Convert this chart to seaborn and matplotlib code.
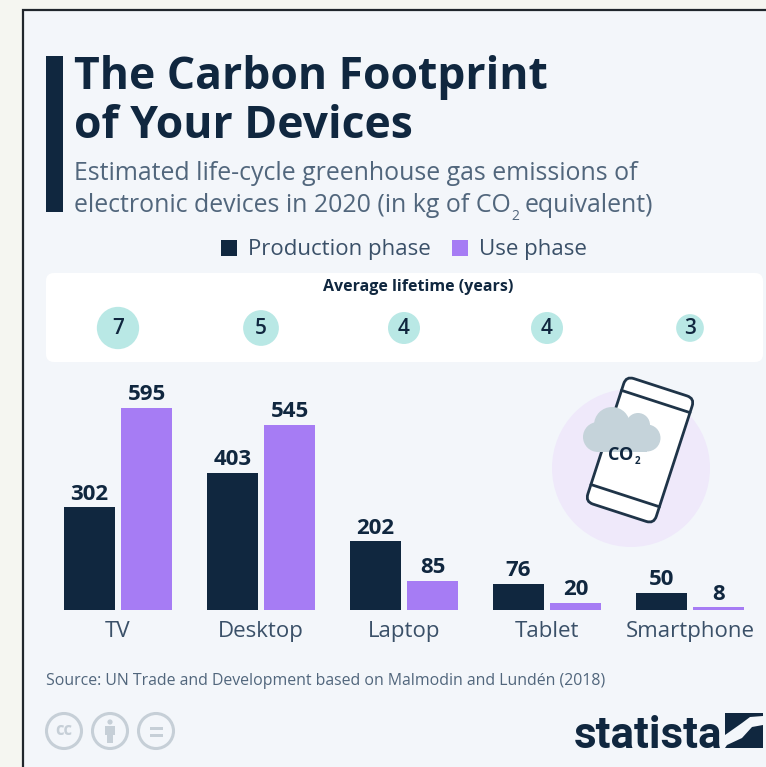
import matplotlib
matplotlib.use("Agg")
import matplotlib.pyplot as plt
import seaborn as sns
import pandas as pd
from matplotlib.patches import FancyBboxPatch, Circle, Rectangle, Polygon
from matplotlib.transforms import Affine2D

devices = ["TV", "Desktop", "Laptop", "Tablet", "Smartphone"]
production = [302, 403, 202, 76, 50]
use = [595, 545, 85, 20, 8]
lifetime = [7, 5, 4, 4, 3]
phase_names = ["Production phase", "Use phase"]

NAVY = "#10273f"
PURPLE = "#a67cf4"
GREY = "#51667c"
CARD = "#f3f6fa"
W, H = 766, 767

sns.set_theme(style="white")
plt.rcParams["font.family"] = ["Open Sans", "DejaVu Sans"]

fig = plt.figure(figsize=(W / 100, H / 100), dpi=100, facecolor="#f5f6f1")

# page layer in pixel coordinates
bg = fig.add_axes([0, 0, 1, 1], zorder=0)
bg.set_xlim(0, W)
bg.set_ylim(H, 0)
bg.axis("off")
bg.add_patch(Rectangle((22.5, 10), 780, 790, fc=CARD, ec="#20262c", lw=1.6))
bg.add_patch(Rectangle((46, 56), 17, 156, fc=NAVY, ec="none"))
bg.add_patch(FancyBboxPatch((52, 279), 705, 77, boxstyle="round,pad=6,rounding_size=8", fc="white", ec="none"))

bg.text(74, 77, "The Carbon Footprint", fontsize=32, fontweight="bold", color=NAVY, va="center")
bg.text(74, 127, "of Your Devices", fontsize=32, fontweight="bold", color=NAVY, va="center")
bg.text(74, 174, "Estimated life-cycle greenhouse gas emissions of", fontsize=17.9, color=GREY, va="center")
bg.text(74, 205, "electronic devices in 2020 (in kg of CO", fontsize=17.9, color=GREY, va="center")
bg.text(511, 216, "2", fontsize=10, color=GREY, va="center")
bg.text(525, 205, "equivalent)", fontsize=17.9, color=GREY, va="center")
bg.text(418, 287, "Average lifetime (years)", fontsize=11.5, fontweight="bold", color=NAVY, ha="center", va="center")
bg.text(46, 681, "Source: UN Trade and Development based on Malmodin and Lundén (2018)", fontsize=11.4, color=GREY, va="center")

# icon
bg.add_patch(Circle((631, 468), 79, fc="#efe9fa", ec="none"))
rot = Affine2D().rotate_deg_around(640, 450, 18) + bg.transData
bg.add_patch(FancyBboxPatch((604, 384), 72, 132, boxstyle="round,pad=0,rounding_size=8", fc="white", ec="#1f3448", lw=2, transform=rot))
bg.plot([604, 676], [399, 399], color="#1f3448", lw=2, transform=rot)
bg.plot([604, 676], [498, 498], color="#1f3448", lw=2, transform=rot)
CLOUD = "#c5d3da"
for cx, cy, r in [(612, 425, 18), (638, 425, 12), (598, 437, 15), (647, 438, 13.5)]:
    bg.add_patch(Circle((cx, cy), r, fc=CLOUD, ec="none"))
bg.add_patch(Rectangle((598, 425), 49, 27, fc=CLOUD, ec="none"))
bg.text(621, 455, "CO", fontsize=13, fontweight="bold", color=NAVY, ha="center", va="center")
bg.text(637, 462, "2", fontsize=7, fontweight="bold", color=NAVY, ha="center", va="center")

# licence icons
CC = "#c6cfd7"
for cx in (64, 110, 156):
    bg.add_patch(Circle((cx, 731), 17.5, fc="none", ec=CC, lw=2.2))
bg.text(64, 730, "cc", fontsize=12, fontweight="bold", color=CC, ha="center", va="center")
bg.add_patch(Circle((110, 722), 2.6, fc=CC, ec="none"))
bg.add_patch(Polygon([(105, 726), (115, 726), (115, 735), (113, 735), (113, 743), (107, 743), (107, 735), (105, 735)], fc=CC, ec="none"))
bg.add_patch(Rectangle((150, 727), 13, 2.6, fc=CC, ec="none"))
bg.add_patch(Rectangle((150, 734), 13, 2.6, fc=CC, ec="none"))

# logo
bg.text(574, 748, "statista", fontsize=31.5, fontweight="bold", family="Roboto", color=NAVY, va="baseline")
bg.add_patch(Polygon([(725, 713), (763, 713), (763, 716), (750, 717), (742, 723), (725, 735)], fc=NAVY, ec="none"))
bg.add_patch(Polygon([(763, 725), (752, 727), (742, 738), (727, 745), (725, 748), (763, 748)], fc=NAVY, ec="none"))

# bars
df = pd.DataFrame({
    "device": devices * 2,
    "phase": [phase_names[0]] * 5 + [phase_names[1]] * 5,
    "value": production + use,
})
ax = fig.add_axes([46.5 / W, (H - 610) / H, 715 / W, 230 / H], zorder=1)
ax.patch.set_alpha(0)
sns.barplot(data=df, x="device", y="value", hue="phase", hue_order=phase_names,
            palette=[NAVY, PURPLE], width=0.8, gap=0.1, saturation=1, linewidth=0, ax=ax)
ax.set_xlim(-0.5, 4.5)
ax.set_ylim(0, 230 / 0.34)
ax.set_xlabel("")
ax.set_ylabel("")
ax.set_yticks([])
ax.tick_params(axis="x", length=0, pad=8, labelsize=16, labelcolor="#3a5068")
sns.despine(ax=ax, left=True, bottom=True)
for c in ax.containers:
    ax.bar_label(c, padding=2, fontsize=16, fontweight="bold", color=NAVY)
sns.move_legend(ax, "center", bbox_to_anchor=(404 / W, 1 - 250 / H), bbox_transform=fig.transFigure,
                ncols=2, frameon=False, title=None, fontsize=16, handlelength=0.72, handleheight=0.72,
                handletextpad=0.5, columnspacing=0.95, labelcolor="#3a5068")

# lifetime bubbles
lx = fig.add_axes([46.5 / W, (H - 362) / H, 715 / W, 68 / H], zorder=2)
lx.patch.set_alpha(0)
sizes = [(2 * 8 * v ** 0.5 * 0.72) ** 2 for v in lifetime]
sns.scatterplot(x=range(5), y=[0] * 5, s=sizes, color="#b9e8e5", linewidth=0, ax=lx, clip_on=False)
lx.set_xlim(-0.5, 4.5)
lx.set_ylim(-34, 34)
lx.axis("off")
for i, v in enumerate(lifetime):
    lx.text(i, 0, str(v), fontsize=15, fontweight="semibold", color=NAVY, ha="center", va="center")

fig.savefig("out.png", dpi=100, facecolor=fig.get_facecolor())
